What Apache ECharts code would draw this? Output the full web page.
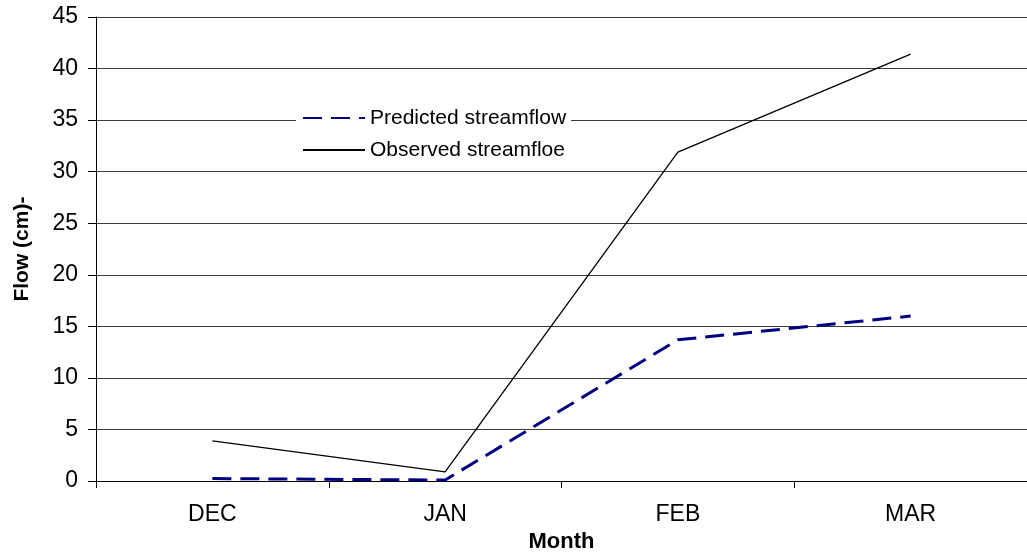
<!DOCTYPE html>
<html>
<head>
<meta charset="utf-8">
<script src="https://cdn.jsdelivr.net/npm/echarts@6/dist/echarts.min.js"></script>
<style>
  html, body { margin: 0; padding: 0; background: #fff; overflow: hidden; }
  #chart { width: 1027px; height: 558px; }
</style>
</head>
<body>
<div id="chart"></div>
<script>
// Monthly flow, predicted vs observed (cm)
const months = ['DEC', 'JAN', 'FEB', 'MAR'];
const predictedFlow = [0.25, 0.1, 13.7, 16.0];
const observedFlow = [3.9, 0.9, 31.9, 41.4];
const yTicks = { min: 0, max: 45, step: 5 };

const FONT = '"Liberation Sans", Arial, sans-serif';

const chart = echarts.init(document.getElementById('chart'), null, { renderer: 'canvas' });

chart.setOption({
  animation: false,
  backgroundColor: '#ffffff',
  grid: { left: 96, right: -7, top: 17, bottom: 71, containLabel: false },
  legend: {
    orient: 'vertical',
    left: 296,
    top: 104,
    padding: [3, 5, 5, 6],
    backgroundColor: '#ffffff',
    itemWidth: 62,
    itemHeight: 14,
    itemGap: 10,
    // line-only keys: hide the marker drawn in the middle of each key
    itemStyle: { color: 'rgba(0,0,0,0)', borderWidth: 0, opacity: 0 },
    textStyle: { fontFamily: FONT, fontSize: 21, color: '#000', lineHeight: 22 },
    data: ['Predicted streamflow', 'Observed streamfloe']
  },
  xAxis: {
    type: 'category',
    data: months,
    boundaryGap: true,
    name: 'Month',
    nameLocation: 'middle',
    nameGap: 44,
    nameTextStyle: { fontFamily: FONT, fontSize: 22, fontWeight: 'bold', color: '#000' },
    axisLine: { lineStyle: { color: '#000', width: 1 } },
    axisTick: { show: true, length: 7, lineStyle: { color: '#000' } },
    axisLabel: { fontFamily: FONT, fontSize: 23, color: '#000', margin: 22 },
    splitLine: { show: false }
  },
  yAxis: {
    type: 'value',
    min: yTicks.min,
    max: yTicks.max,
    interval: yTicks.step,
    name: 'Flow (cm)-',
    nameLocation: 'middle',
    nameRotate: 90,
    nameGap: 63,
    nameTextStyle: { fontFamily: FONT, fontSize: 21, fontWeight: 'bold', color: '#000' },
    axisLine: { show: true, lineStyle: { color: '#000', width: 1 } },
    axisTick: { show: true, length: 8, lineStyle: { color: '#000' } },
    axisLabel: { fontFamily: FONT, fontSize: 23, color: '#000', margin: 18 },
    splitLine: { show: true, lineStyle: { color: '#3a3a3a', width: 1.2 } }
  },
  series: [
    {
      name: 'Predicted streamflow',
      type: 'line',
      data: predictedFlow,
      symbol: 'none',
      z: 3,
      lineStyle: { color: '#000080', width: 3, type: [19, 9] },
      itemStyle: { color: '#000080' }
    },
    {
      name: 'Observed streamfloe',
      type: 'line',
      data: observedFlow,
      symbol: 'none',
      z: 3,
      lineStyle: { color: '#000000', width: 1.3, type: 'solid' },
      itemStyle: { color: '#000000' }
    }
  ]
});
</script>
</body>
</html>
